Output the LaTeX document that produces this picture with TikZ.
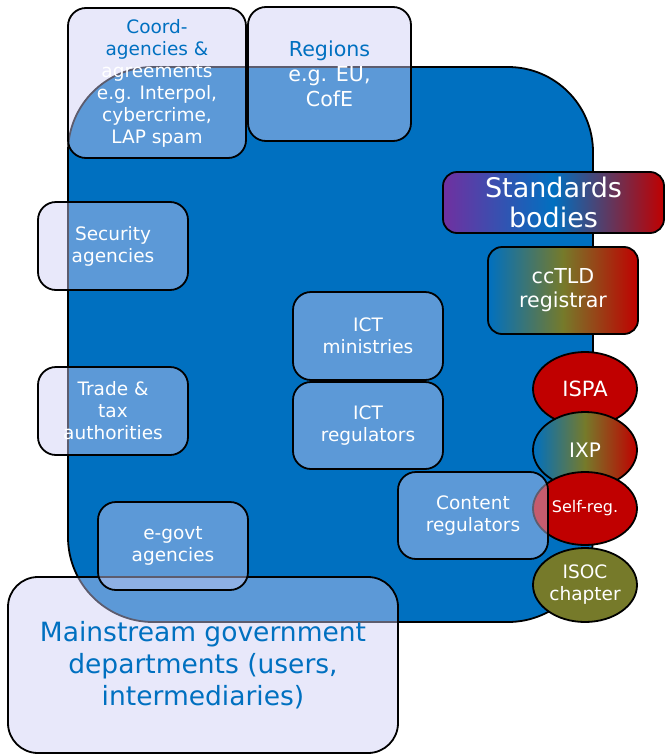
\documentclass[tikz,border=0pt]{standalone}
\usepackage{fontspec}
\setmainfont{DejaVu Sans}
\usepackage{tikz}
\usetikzlibrary{shapes.geometric}
\usepackage{xcolor}
\definecolor{govblue}{HTML}{0070C0}
\definecolor{govred}{HTML}{C00000}
\definecolor{govolive}{HTML}{767A2A}
\definecolor{govpurple}{HTML}{7030A0}
\definecolor{govlav}{RGB}{204,204,244}
\newcommand{\boxfont}[2]{\fontsize{#1}{#2}\selectfont}
\tikzstyle{govmap}=[
  x=1pt,y=-1pt,font=\boxfont{18.5}{22}
]
\tikzstyle{govarea}=[
  draw=black,line width=1.8pt,fill=govblue,rounded corners=85pt
]
\tikzstyle{govbox}=[
  draw=black,line width=1.8pt,rectangle,rounded corners=18pt,fill=govlav,
  fill opacity=0.45,draw opacity=1,text opacity=1,align=center,inner sep=0pt,
  text=white,minimum width=150pt,minimum height=88pt
]
\tikzstyle{shadedbox}=[
  draw=black,line width=1.8pt,rectangle,rounded corners=14pt,align=center,
  inner sep=0pt,text=white
]
\tikzstyle{govoval}=[
  draw=black,line width=1.8pt,ellipse,minimum width=104pt,minimum height=74pt,
  inner sep=0pt,align=center,text=white
]

\begin{document}
\begin{tikzpicture}[govmap]
    \useasboundingbox (0,0) rectangle (665,755);
    % the big government area
    \draw [govarea] (68,67) rectangle (593,622);
    % boxes over and round it
      \node (coord) at (157,83) [govbox, minimum width=178pt, minimum height=150pt] {\textcolor{govblue}{Coord-}\\ \textcolor{govblue}{agencies \&}\\ agreements\\ e.g. Interpol,\\ cybercrime,\\ LAP spam};
      \node (regions) at (329.5,74) [govbox, minimum width=163pt, minimum height=134pt, font=\boxfont{20.6}{25}] {\textcolor{govblue}{Regions}\\ e.g. EU,\\ CofE};
      \node (security) at (113,246) [govbox] {Security\\ agencies};
      \node (trade) at (113,411) [govbox] {Trade \&\\ tax\\ authorities};
      \node (ictmin) at (368,336) [govbox] {ICT\\ ministries};
      \node (ictreg) at (368,425.5) [govbox, minimum height=87pt] {ICT\\ regulators};
      \node (mainstream) at (203,665) [govbox, minimum width=390pt, minimum height=176pt, rounded corners=30pt, text=govblue, font=\boxfont{26.5}{32}] {Mainstream government\\ departments (users,\\ intermediaries)};
      \node (egovt) at (173,546) [govbox] {e-govt\\ agencies};
      \node (standards) at (553.5,202.5) [shadedbox, minimum width=221pt, minimum height=61pt, left color=govpurple, right color=govred, middle color=govblue, font=\boxfont{27}{30}] {Standards\\ bodies};
      \node (cctld) at (563,290.5) [shadedbox, minimum width=150pt, minimum height=87pt, left color=govblue, right color=govred, middle color=govolive, font=\boxfont{20.6}{24}] {ccTLD\\ registrar};
    % industry ovals
      \node (ispa) at (585,389) [govoval, fill=govred, font=\boxfont{21}{24}] {ISPA};
      \node (ixp) at (585,450) [govoval, minimum height=76pt, left color=govblue, right color=govred, middle color=govolive, font=\boxfont{20}{24}] {IXP};
      \node (selfreg) at (585,508.5) [govoval, minimum height=73pt, fill=govred, font=\boxfont{16}{20}] {Self-reg.};
      \node (isoc) at (585,585) [govoval, fill=govolive, font=\boxfont{18.5}{22}] {ISOC\\ chapter};
      \node (content) at (473,515.5) [govbox, minimum height=87pt] {Content\\ regulators};
    \end{tikzpicture}
\end{document}
